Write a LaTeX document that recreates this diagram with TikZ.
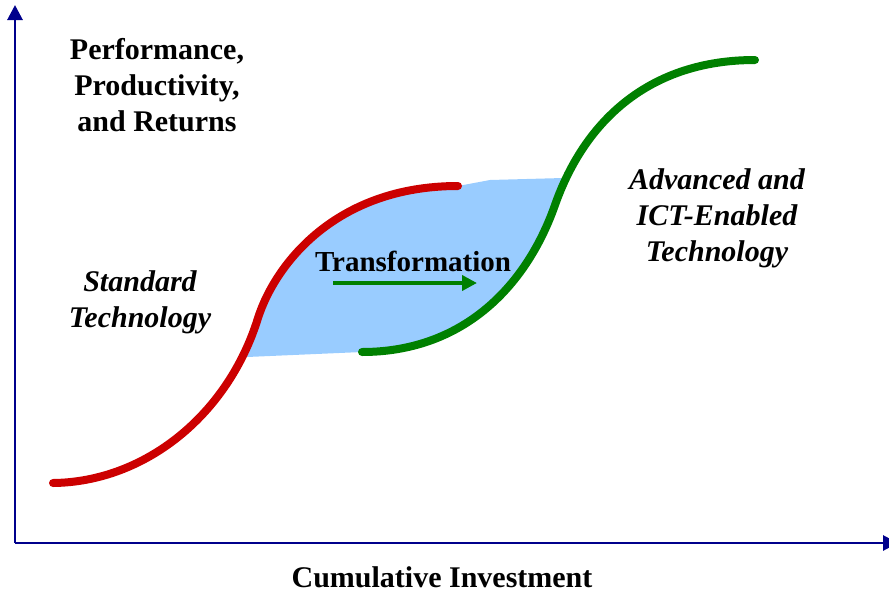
\documentclass[tikz,border=0pt]{standalone}
\usepackage{fontspec}
\setmainfont{Liberation Serif}
\usetikzlibrary{arrows.meta}

\definecolor{axisblue}{RGB}{0,0,140}
\definecolor{stdred}{RGB}{204,0,0}
\definecolor{ictgreen}{RGB}{0,128,0}
\definecolor{shiftblue}{RGB}{153,204,255}

\tikzset{
  axis line/.style={
    draw=axisblue,
    line width=2.8pt,
    -{Triangle[length=15pt,width=15pt]}
  },
  s curve/.style={
    line width=8pt,
    line cap=round
  },
  big label/.style={
    font=\fontsize{30}{36}\selectfont\bfseries,
    align=center,
    inner sep=0pt
  },
  curve label/.style={
    big label,
    font=\fontsize{30}{36}\selectfont\bfseries\itshape
  },
}

\begin{document}
\begin{tikzpicture}[x=1pt, y=-1pt, >=Stealth]
  \useasboundingbox (0,0) rectangle (889,592);

  % axes
  \coordinate (origin) at (15,543);
  \coordinate (y-tip) at (15,5);
  \coordinate (x-tip) at (898,543);

  % curve points
  \coordinate (std-start) at (53,483);
  \coordinate (std-mid) at (258,318);
  \coordinate (std-end) at (458,186);
  \coordinate (ict-start) at (362,352);
  \coordinate (ict-mid) at (555,205);
  \coordinate (ict-end) at (755,60);

  % shaded gap between the two curves
  \fill [shiftblue] (247,357) -- (std-mid) .. controls (275,265) and (335,186) .. (std-end)
    -- (490,180) -- (563,178) -- (ict-mid)
    .. controls (525,290) and (460,352) .. (ict-start) -- cycle;

  \draw [axis line] (origin) -- (y-tip);
  \draw [axis line] (origin) -- (x-tip);

  \draw [s curve, stdred] (std-start) .. controls (145,482) and (228,415) .. (std-mid)
    .. controls (275,265) and (335,186) .. (std-end);
  \draw [s curve, ictgreen] (ict-start) .. controls (460,352) and (525,290) .. (ict-mid)
    .. controls (585,120) and (650,60) .. (ict-end);

  \node [big label] (perf) at (157,85) {Performance,\\Productivity,\\and Returns};
  \node [curve label] (std) at (140,302) {Standard\\Technology};
  \node [curve label] (ict) at (717,218) {Advanced and\\ICT-Enabled\\Technology};
  \node [big label, font=\fontsize{29}{34}\selectfont\bfseries] (trans) at (413,261) {Transformation};
  \node [big label] (invest) at (442,577) {Cumulative Investment};

  \coordinate (shift-start) at (333,283);
  \coordinate (shift-end) at (477,283);
  \draw [ictgreen, line width=4pt, -{Triangle[length=15pt,width=15pt]}] (shift-start) -- (shift-end);

\end{tikzpicture}
\end{document}
